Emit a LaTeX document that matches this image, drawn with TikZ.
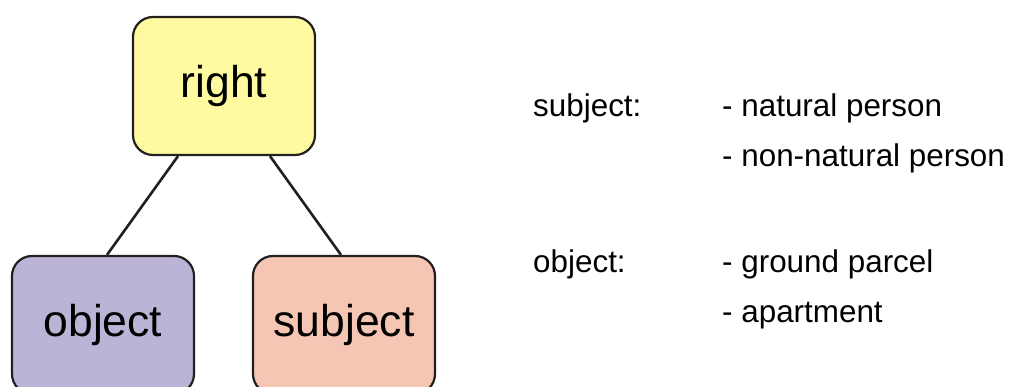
\documentclass[tikz,border=0pt]{standalone}
\usepackage{fontspec}
\setmainfont{Liberation Sans}
\definecolor{boxline}{RGB}{35,31,32}
\definecolor{yel}{RGB}{255,250,160}
\definecolor{pur}{RGB}{187,180,214}
\definecolor{sal}{RGB}{245,198,180}
\begin{document}
\begin{tikzpicture}[x=1pt,y=-1pt,
  box/.style={draw=boxline,line width=2.2pt,rounded corners=20pt,minimum width=182pt,minimum height=138pt,inner sep=0pt,font=\fontsize{44.5}{50}\selectfont},
  link/.style={draw=boxline,line width=2.6pt},
  lbl/.style={anchor=base west,inner sep=0pt,font=\fontsize{31.4}{36}\selectfont}]
\useasboundingbox (0,0) rectangle (1013,387);
\clip (0,0) rectangle (1013,387);
\node[box,fill=yel] (right) at (224,86) {right};
\node[box,fill=pur] (object) at (103,325) {object};
\node[box,fill=sal] (subject) at (344,325) {subject};
\draw[link] ([xshift=-46pt]right.south) -- ([xshift=4pt]object.north);
\draw[link] ([xshift=46pt]right.south) -- ([xshift=-3pt]subject.north);
\node[lbl] (s) at (533,117) {subject:};
\node[lbl] (s1) at (722,117) {- natural person};
\node[lbl] (s2) at (722,167) {- non-natural person};
\node[lbl] (o) at (533,273) {object:};
\node[lbl] (o1) at (722,273) {- ground parcel};
\node[lbl] (o2) at (722,323) {- apartment};
\end{tikzpicture}
\end{document}
